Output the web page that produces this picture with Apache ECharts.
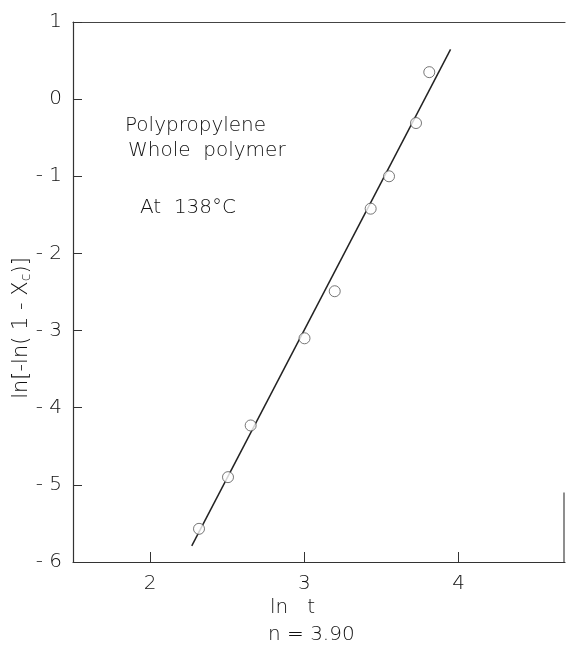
<!DOCTYPE html>
<html>
<head>
<meta charset="utf-8">
<script src="https://cdn.jsdelivr.net/npm/echarts@6/dist/echarts.min.js"></script>
<style>
html,body{margin:0;padding:0;background:#fff;}
#chart{width:566px;height:650px;}
</style>
</head>
<body>
<div id="chart"></div>
<script>
// Data
const lnT = [2.317, 2.505, 2.652, 3.001, 3.197, 3.430, 3.549, 3.724, 3.810];
const lnLnX = [-5.57, -4.90, -4.23, -3.10, -2.49, -1.42, -1.00, -0.31, 0.35];
const fitX = [2.27, 3.948];
const fitY = [-5.79, 0.645];
const xTicks = [2, 3, 4];
const yTicks = [-6, -5, -4, -3, -2, -1, 0, 1];
const xRange = [1.5, 4.69];
const yRange = [-6, 1];

const FONT = 'DejaVu Sans';
const TXT = '#111';

const chart = echarts.init(document.getElementById('chart'), null, {renderer: 'canvas'});

const points = lnT.map((x, i) => [x, lnLnX[i]]);
const fit = fitX.map((x, i) => [x, fitY[i]]);

const option = {
  animation: false,
  backgroundColor: '#fff',
  grid: {left: 73, right: 1, top: 22, bottom: 88, containLabel: false},
  xAxis: [{
    type: 'value', min: xRange[0], max: xRange[1], position: 'bottom',
    splitLine: {show: false},
    axisLine: {show: true, onZero: false, lineStyle: {color: '#333', width: 1.2}},
    axisTick: {show: true, inside: true, length: 10, customValues: xTicks, lineStyle: {color: '#333'}},
    axisLabel: {customValues: xTicks, color: TXT, fontFamily: FONT, fontWeight: 200, fontSize: 20, margin: 12}
  }, {
    type: 'value', min: xRange[0], max: xRange[1], position: 'top',
    splitLine: {show: false},
    axisLine: {show: true, onZero: false, lineStyle: {color: '#444', width: 1.2}},
    axisTick: {show: false}, axisLabel: {show: false}
  }],
  yAxis: [{
    type: 'value', min: yRange[0], max: yRange[1], interval: 1, position: 'left',
    splitLine: {show: false},
    axisLine: {show: true, onZero: false, lineStyle: {color: '#333', width: 1.2}},
    axisTick: {show: true, inside: true, length: 9, lineStyle: {color: '#333'}},
    axisLabel: {
      customValues: yTicks,
      color: TXT, fontFamily: FONT, fontWeight: 200, fontSize: 20, margin: 11,
      formatter: v => (v < 0 ? '- ' + Math.abs(v) : String(v))
    }
  }],
  series: [{
    type: 'line', data: fit, showSymbol: false, symbol: 'none',
    lineStyle: {color: '#222', width: 1.5}, silent: true, z: 2
  }, {
    type: 'scatter', data: points, symbol: 'circle', symbolSize: 11,
    itemStyle: {color: '#fff', borderColor: '#555', borderWidth: 1}, z: 3
  }],
  graphic: [
    {type: 'text', left: 125, top: 116, style: {text: 'Polypropylene', font: '200 20px "DejaVu Sans"', fill: TXT}},
    {type: 'text', left: 128, top: 141, style: {text: 'Whole  polymer', font: '200 20px "DejaVu Sans"', fill: TXT}},
    {type: 'text', left: 140, top: 198, style: {text: 'At  138°C', font: '200 20px "DejaVu Sans"', fill: TXT}},
    {type: 'text', left: 270, top: 598, style: {text: 'ln   t', font: '200 20px "DejaVu Sans"', fill: TXT}},
    {type: 'text', left: 268, top: 625, style: {text: 'n = 3.90', font: '200 20px "DejaVu Sans"', fill: TXT}},
    {
      type: 'text', x: 22, y: 328, rotation: Math.PI / 2,
      style: {
        text: '{a|ln[-ln( 1 - X}{s|c}{a|)]}',
        align: 'center', verticalAlign: 'middle',
        rich: {
          a: {fontFamily: FONT, fontWeight: 200, fontSize: 21, fill: TXT},
          s: {fontFamily: FONT, fontWeight: 200, fontSize: 14, fill: TXT, padding: [8, 0, 0, 0]}
        }
      }
    }
  ]
};
chart.setOption(option);

// right border segment (only the lower part is visible in the reference)
const p1 = chart.convertToPixel({gridIndex: 0}, [xRange[1], -5.1]);
const p2 = chart.convertToPixel({gridIndex: 0}, [xRange[1], yRange[0]]);
chart.setOption({graphic: option.graphic.concat([{
  type: 'line', shape: {x1: p1[0] - 1, y1: p1[1], x2: p2[0] - 1, y2: p2[1]},
  style: {stroke: '#444', lineWidth: 1.2}
}])});
</script>
</body>
</html>
